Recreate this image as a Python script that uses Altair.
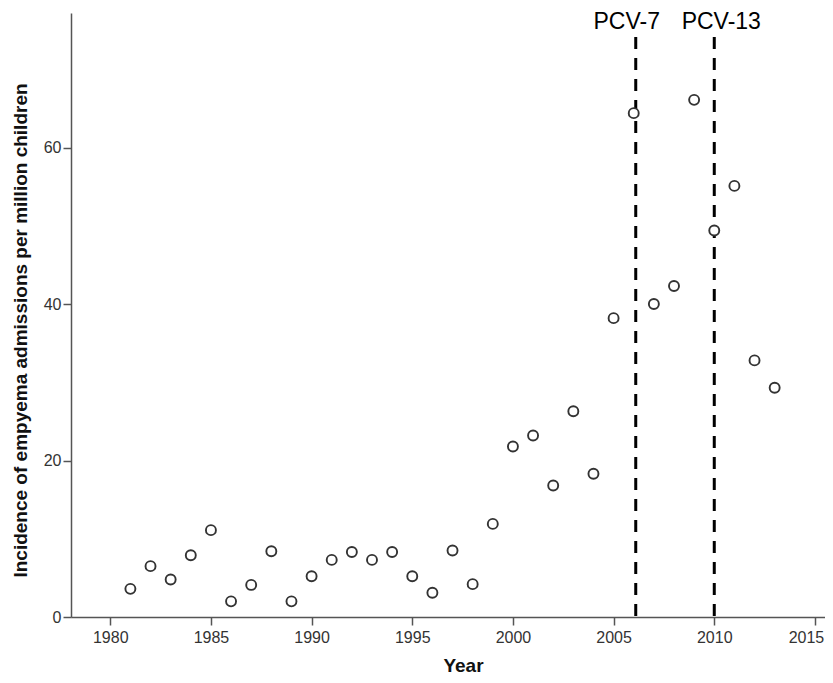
import altair as alt
import pandas as pd

years = list(range(1981, 2014))
incidence = [3.6, 6.5, 4.8, 7.9, 11.1, 2.0, 4.1, 8.4, 2.0, 5.2,
             7.3, 8.3, 7.3, 8.3, 5.2, 3.1, 8.5, 4.2, 11.9, 21.8,
             23.2, 16.8, 26.3, 18.3, 38.2, 64.4, 40.0, 42.3, 66.1, 49.4,
             55.1, 32.8, 29.3]

vaccine_labels = ["PCV-7", "PCV-13"]
vaccine_years = [2006.1, 2010.0]

df = pd.DataFrame({"Year": years, "Incidence": incidence})
vdf = pd.DataFrame({"label": vaccine_labels, "year": vaccine_years})

FONT = "Liberation Sans"
xscale = alt.Scale(domain=[1978.05, 2015.5], nice=False, zero=False)
yscale = alt.Scale(domain=[0, 77.2], nice=False)

points = alt.Chart(df).mark_point(
    shape="circle", filled=False, fill="white", fillOpacity=1,
    stroke="#333333", strokeWidth=1.9, size=100, opacity=1
).encode(
    x=alt.X("Year:Q", scale=xscale,
            axis=alt.Axis(values=list(range(1980, 2016, 5)), format="d",
                          labelPadding=4,
                          labelOffset={"condition": {"test": "datum.value == 2015", "value": -9},
                                       "value": 0},
                          title="Year", titleX=392, titleY=54,
                          titleAlign="center", titleBaseline="alphabetic",
                          titleFontSize=19, titleFontWeight="bold",
                          titleColor="#111", titleFont=FONT)),
    y=alt.Y("Incidence:Q", scale=yscale,
            axis=alt.Axis(values=[0, 20, 40, 60], format="d",
                          labelPadding=2,
                          title="Incidence of empyema admissions per million children",
                          titleAngle=-90, titleX=-51, titleY=317,
                          titleAlign="center", titleBaseline="middle",
                          titleFontSize=19, titleFontWeight="bold",
                          titleColor="#111", titleFont=FONT)),
)

rules = alt.Chart(vdf).mark_rule(
    color="black", strokeWidth=3, strokeDash=[12, 9]
).encode(
    x=alt.X("year:Q", scale=xscale),
    y=alt.value(24),
    y2=alt.value(604),
)

text7 = alt.Chart(vdf.iloc[[0]]).mark_text(
    font=FONT, fontSize=23, color="black", align="center",
    baseline="alphabetic", dx=-9
).encode(x=alt.X("year:Q", scale=xscale), y=alt.value(16), text="label:N")

text13 = alt.Chart(vdf.iloc[[1]]).mark_text(
    font=FONT, fontSize=23, color="black", align="center",
    baseline="alphabetic", dx=7
).encode(x=alt.X("year:Q", scale=xscale), y=alt.value(16), text="label:N")

chart = alt.layer(rules, points, text7, text13).properties(
    width=754, height=604,
    autosize=alt.AutoSizeParams(type="none"),
    padding={"left": 63, "top": 5, "right": 0, "bottom": 58},
).configure_view(stroke=None).configure_axis(
    grid=False, domainColor="#555", domainWidth=1.5,
    tickColor="#555", tickWidth=1.5, tickSize=8,
    labelFont=FONT, labelFontSize=16, labelColor="#333",
)

chart.save("out.html", embed_options={"renderer": "svg", "actions": False})
